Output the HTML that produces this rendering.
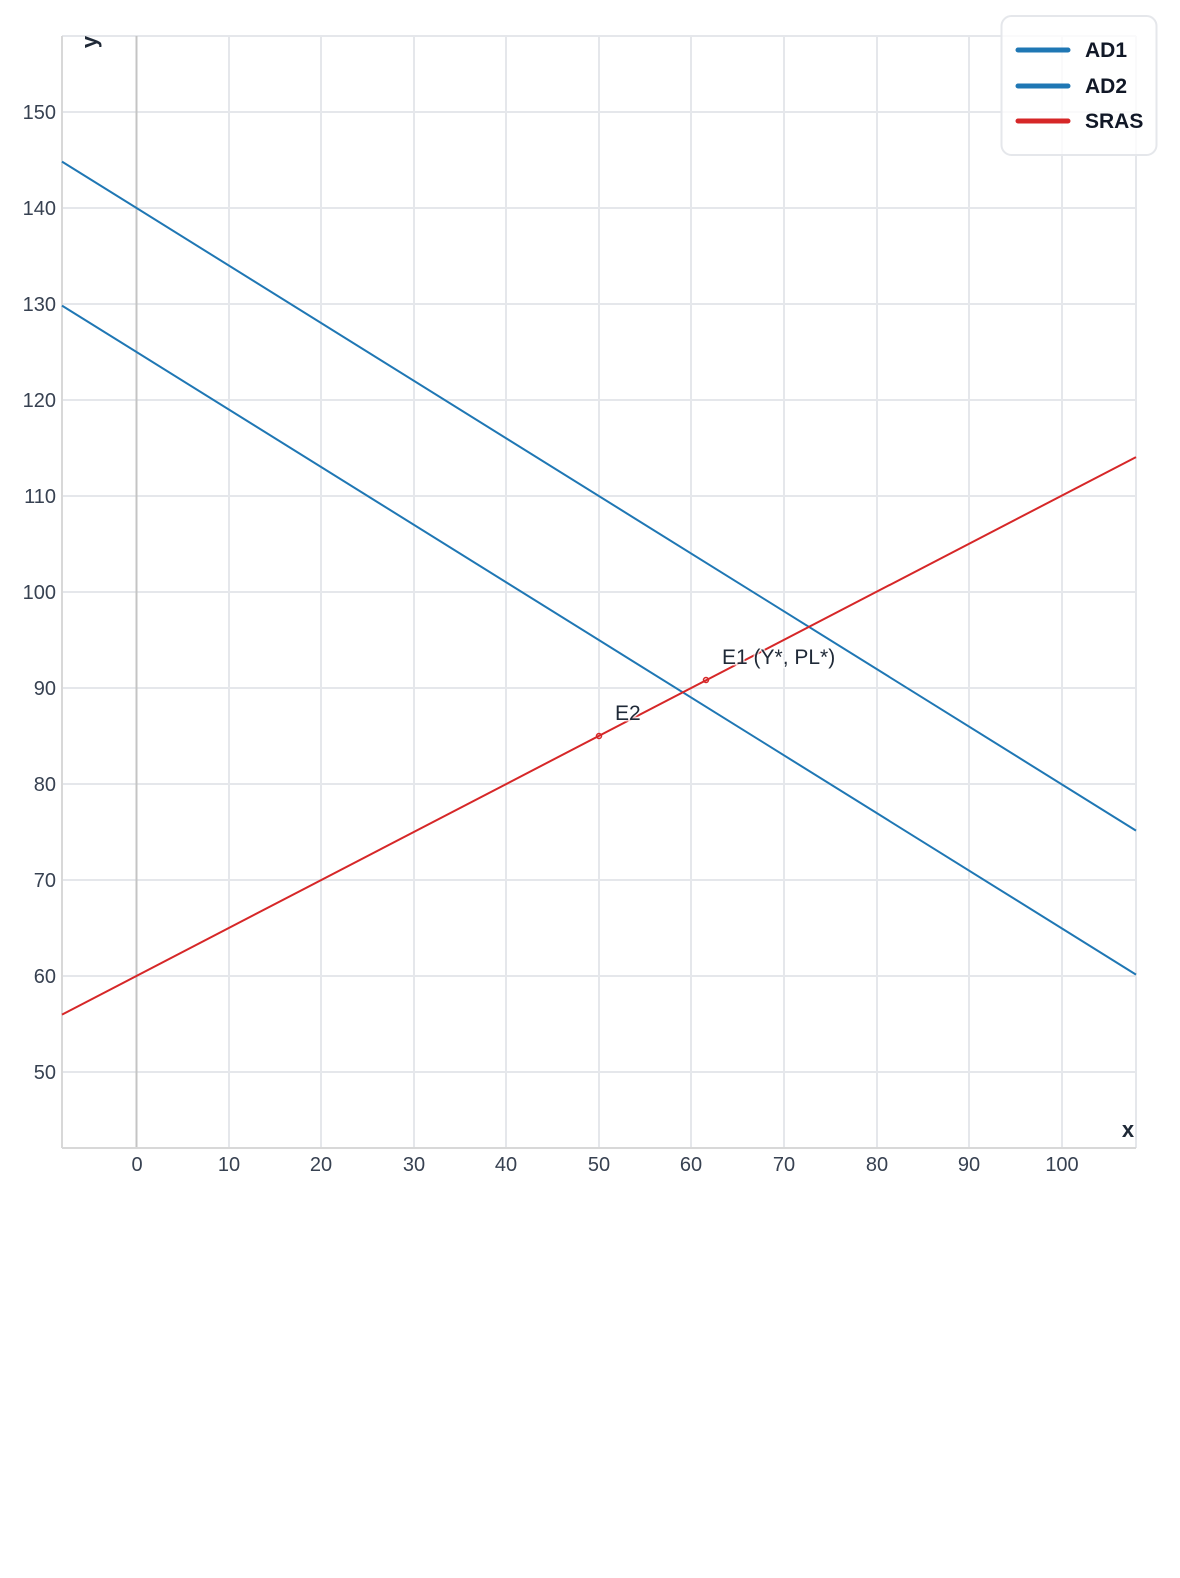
<!DOCTYPE html>
<html><head><meta charset="utf-8"><style>
html,body{margin:0;padding:0;background:#fff;}
svg{display:block;font-family:"Liberation Sans",sans-serif;}
</style></head><body>
<svg width="1180" height="1578" viewBox="0 0 1180 1578">
<rect width="1180" height="1578" fill="#fff"/>
<g stroke="#e5e7eb" stroke-width="2">
<line x1="62" y1="36" x2="1136" y2="36"/>
<line x1="1136" y1="36" x2="1136" y2="1148"/>
<line x1="229" y1="36" x2="229" y2="1148"/><line x1="321" y1="36" x2="321" y2="1148"/>
<line x1="414" y1="36" x2="414" y2="1148"/><line x1="506" y1="36" x2="506" y2="1148"/>
<line x1="599" y1="36" x2="599" y2="1148"/><line x1="691" y1="36" x2="691" y2="1148"/>
<line x1="784" y1="36" x2="784" y2="1148"/><line x1="877" y1="36" x2="877" y2="1148"/>
<line x1="969" y1="36" x2="969" y2="1148"/><line x1="1062" y1="36" x2="1062" y2="1148"/>
<line x1="62" y1="112" x2="1136" y2="112"/><line x1="62" y1="208" x2="1136" y2="208"/>
<line x1="62" y1="304" x2="1136" y2="304"/><line x1="62" y1="400" x2="1136" y2="400"/>
<line x1="62" y1="496" x2="1136" y2="496"/><line x1="62" y1="592" x2="1136" y2="592"/>
<line x1="62" y1="688" x2="1136" y2="688"/><line x1="62" y1="784" x2="1136" y2="784"/>
<line x1="62" y1="880" x2="1136" y2="880"/><line x1="62" y1="976" x2="1136" y2="976"/>
<line x1="62" y1="1072" x2="1136" y2="1072"/>
</g>
<line x1="136.5" y1="36" x2="136.5" y2="1148" stroke="#c4c4c4" stroke-width="2"/>
<line x1="62" y1="36" x2="62" y2="1148" stroke="#d8d8d8" stroke-width="2"/>
<line x1="62" y1="1148" x2="1136" y2="1148" stroke="#d8d8d8" stroke-width="2"/>
<g fill="#374151" font-size="20" text-anchor="end">
<text x="56" y="119">150</text><text x="56" y="215">140</text><text x="56" y="311">130</text>
<text x="56" y="407">120</text><text x="56" y="503">110</text><text x="56" y="599">100</text>
<text x="56" y="695">90</text><text x="56" y="791">80</text><text x="56" y="887">70</text>
<text x="56" y="983">60</text><text x="56" y="1079">50</text>
</g>
<g fill="#374151" font-size="20" text-anchor="middle">
<text x="137" y="1171">0</text><text x="229" y="1171">10</text><text x="321" y="1171">20</text>
<text x="414" y="1171">30</text><text x="506" y="1171">40</text><text x="599" y="1171">50</text>
<text x="691" y="1171">60</text><text x="784" y="1171">70</text><text x="877" y="1171">80</text>
<text x="969" y="1171">90</text><text x="1062" y="1171">100</text>
</g>
<text x="1128" y="1137" font-size="22" font-weight="bold" fill="#1f2937" text-anchor="middle">x</text>
<text transform="translate(97,42) rotate(-90)" font-size="22" font-weight="bold" fill="#1f2937" text-anchor="middle">y</text>
<line x1="62" y1="161.6" x2="1136" y2="830.6" stroke="#1f77b4" stroke-width="2"/>
<line x1="62" y1="305.6" x2="1136" y2="974.6" stroke="#1f77b4" stroke-width="2"/>
<line x1="62" y1="1014.6" x2="1136" y2="457.1" stroke="#d62728" stroke-width="2"/>
<circle cx="599" cy="736" r="2.5" fill="none" stroke="#d62728" stroke-width="1.5"/>
<circle cx="706" cy="680" r="2.5" fill="none" stroke="#d62728" stroke-width="1.5"/>
<g font-size="21" fill="#1f2937" stroke="#fff" stroke-width="3" paint-order="stroke" stroke-opacity="0.7">
<text x="722" y="664">E1 (Y*, PL*)</text>
<text x="615" y="720">E2</text>
</g>
<rect x="1001.5" y="16" width="155" height="139" rx="10" fill="#fff" fill-opacity="0.8" stroke="#e5e7eb" stroke-width="2"/>
<g stroke-width="5" stroke-linecap="round">
<line x1="1018" y1="50" x2="1068" y2="50" stroke="#1f77b4"/>
<line x1="1018" y1="86" x2="1068" y2="86" stroke="#1f77b4"/>
<line x1="1018" y1="121" x2="1068" y2="121" stroke="#d62728"/>
</g>
<g font-size="21" font-weight="bold" fill="#111827">
<text x="1085" y="57">AD1</text><text x="1085" y="93">AD2</text><text x="1085" y="128">SRAS</text>
</g>
</svg>
</body></html>
